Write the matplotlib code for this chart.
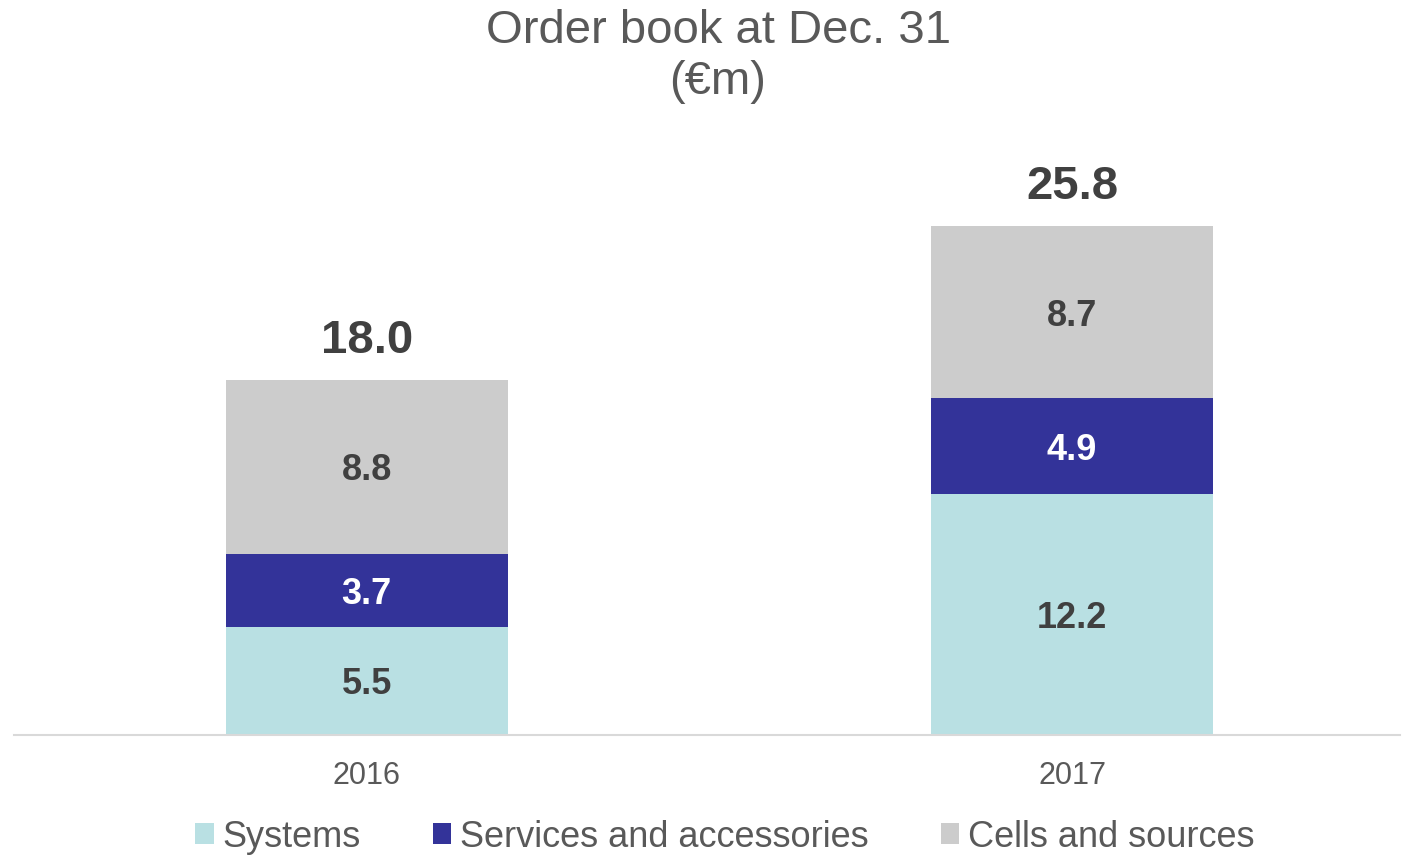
import matplotlib
matplotlib.use('Agg')
import matplotlib.pyplot as plt
from matplotlib.patches import Patch

years = ['2016', '2017']
series = ['Systems', 'Services and accessories', 'Cells and sources']
systems = [5.5, 12.2]
services = [3.7, 4.9]
cells = [8.8, 8.7]
totals = [18.0, 25.8]

colors = ['#B9E0E3', '#333399', '#CCCCCC']
label_colors = ['#404040', '#FFFFFF', '#404040']

plt.rcParams['font.family'] = ['Liberation Sans', 'DejaVu Sans']

fig = plt.figure(figsize=(14.02, 8.55), dpi=100)
ax = fig.add_axes([14 / 1402, 120 / 855, 1386 / 1402, 585 / 855])

x = list(range(len(years)))
bottom = [0.0] * len(years)
for vals, col, lcol in zip([systems, services, cells], colors, label_colors):
    ax.bar(x, vals, width=0.4, bottom=bottom, color=col, edgecolor='none')
    for xi, b, v in zip(x, bottom, vals):
        ax.annotate(f'{v:.1f}', (xi, b + v / 2), xytext=(0, -3), textcoords='offset points',
                    ha='center', va='center', fontsize=26, fontweight='bold', color=lcol)
    bottom = [b + v for b, v in zip(bottom, vals)]

for xi, t in zip(x, totals):
    ax.annotate(f'{t:.1f}', (xi, t), xytext=(0, 28), textcoords='offset points',
                ha='center', va='center', fontsize=34, fontweight='bold', color='#404040')

ax.set_xlim(-0.5, 1.465)
ax.set_ylim(0, 29.66)
ax.set_xticks(x)
ax.set_xticklabels(years, fontsize=22, color='#595959')
ax.tick_params(axis='x', length=0, pad=19)
ax.set_yticks([])
for s in ['top', 'right', 'left']:
    ax.spines[s].set_visible(False)
ax.spines['bottom'].set_color('#D9D9D9')
ax.spines['bottom'].set_linewidth(1.5)

fig.text(718 / 1402, 1 - 9 / 855, 'Order book at Dec. 31\n(€m)', ha='center', va='top',
         fontsize=34, color='#595959', linespacing=1.2)

handles = [Patch(facecolor=c, edgecolor='none') for c in colors]
fig.legend(handles, series, loc='center', bbox_to_anchor=(725 / 1402, 1 - 837 / 855),
           ncol=3, frameon=False, fontsize=26, handlelength=0.5, handleheight=0.5,
           handletextpad=0.25, columnspacing=2.0, borderpad=0, labelcolor='#595959')

fig.savefig('out.png', dpi=100)
